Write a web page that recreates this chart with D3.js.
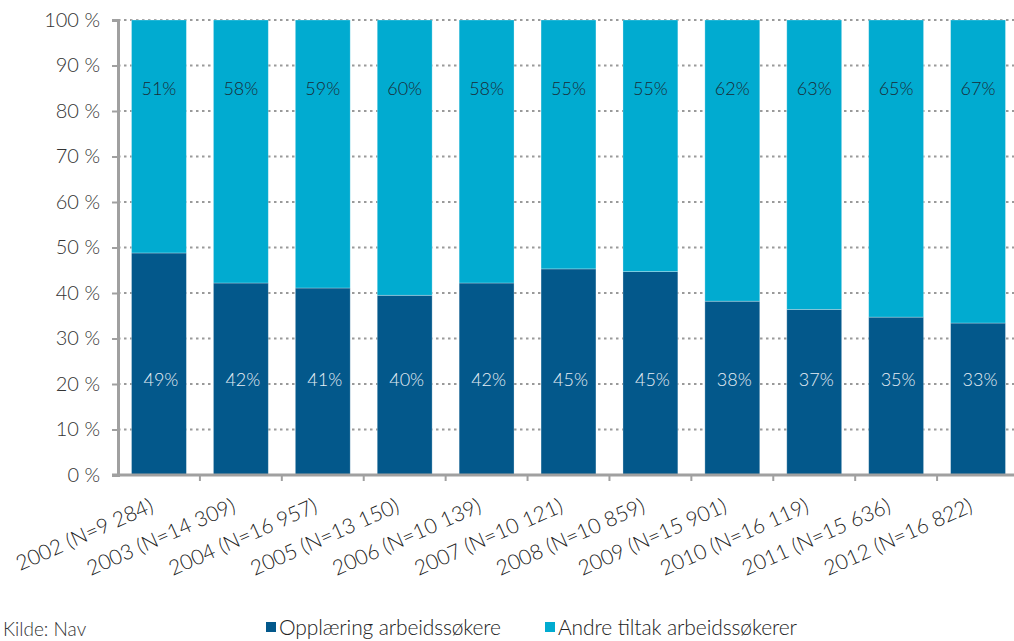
<!DOCTYPE html>
<html><head><meta charset="utf-8">
<script src="https://cdn.jsdelivr.net/npm/d3@7"></script>
<style>
body{margin:0;background:#fff;}
svg{display:block;font-family:Lato, "Open Sans", sans-serif;font-weight:300;}
</style></head>
<body><svg id="c" width="1014" height="641"></svg>
<script>
const categories = ["2002 (N=9 284)","2003 (N=14 309)","2004 (N=16 957)","2005 (N=13 150)","2006 (N=10 139)","2007 (N=10 121)","2008 (N=10 859)","2009 (N=15 901)","2010 (N=16 119)","2011 (N=15 636)","2012 (N=16 822)"];
const opplaering = [48.8, 42.2, 41.1, 39.5, 42.2, 45.3, 44.7, 38.2, 36.4, 34.7, 33.4];
const andre = opplaering.map(v => 100 - v);
const opplaeringLabels = ["49%","42%","41%","40%","42%","45%","45%","38%","37%","35%","33%"];
const andreLabels = ["51%","58%","59%","60%","58%","55%","55%","62%","63%","65%","67%"];
const yTicks = [0,10,20,30,40,50,60,70,80,90,100];
const seriesNames = ["Opplæring arbeidssøkere","Andre tiltak arbeidssøkerer"];
const colors = ["#03588b","#01abd0"];

const svg = d3.select("#c");
const mLeft = 118, mRight = 1019, mTop = 20, mBottom = 475;
const x = d3.scaleBand().domain(categories).range([mLeft, mRight]).paddingInner(0.33).paddingOuter(0.165);
const y = d3.scaleLinear().domain([0,100]).range([mBottom, mTop]);

// grid
svg.append("g").selectAll("line").data(yTicks.filter(d=>d>0)).join("line")
  .attr("x1", mLeft).attr("x2", 1014).attr("y1", d=>y(d)).attr("y2", d=>y(d))
  .attr("stroke", "#9a9a9a").attr("stroke-width", 2).attr("stroke-dasharray", "2.5,3.5");

// bars
const g = svg.append("g");
categories.forEach((c,i)=>{
  g.append("rect").attr("x", x(c)).attr("width", x.bandwidth())
    .attr("y", y(opplaering[i])).attr("height", y(0)-y(opplaering[i]))
    .attr("fill", colors[0]).attr("stroke","#ffffff").attr("stroke-opacity",0.35).attr("stroke-width",0.8);
  g.append("rect").attr("x", x(c)).attr("width", x.bandwidth())
    .attr("y", y(100)).attr("height", y(opplaering[i])-y(100))
    .attr("fill", colors[1]).attr("stroke","#ffffff").attr("stroke-opacity",0.35).attr("stroke-width",0.8);
  g.append("text").attr("x", x(c)+x.bandwidth()/2).attr("y", y(85)+7)
    .attr("text-anchor","middle").attr("font-size",18).attr("fill","#1b2a35").text(andreLabels[i]);
  g.append("text").attr("x", x(c)+x.bandwidth()/2+2).attr("y", y(21)+7)
    .attr("text-anchor","middle").attr("font-size",18).attr("fill","#e6eef5").text(opplaeringLabels[i]);
});

// y axis
const ya = svg.append("g").attr("transform", `translate(${mLeft},0)`)
  .call(d3.axisLeft(y).tickValues(yTicks).tickSize(6).tickPadding(12).tickFormat(d=>d+" %"));
ya.select(".domain").attr("stroke","#a0a0a0").attr("stroke-width",3);
ya.selectAll(".tick line").attr("stroke","#a0a0a0").attr("stroke-width",2);
ya.selectAll("text").attr("font-size",20).attr("fill","#333").attr("font-family","Lato, sans-serif").attr("font-weight",300);

// x axis
svg.append("line").attr("x1", mLeft-6).attr("x2", 1014).attr("y1", mBottom).attr("y2", mBottom)
  .attr("stroke","#a0a0a0").attr("stroke-width",3);
const step = x.step();
svg.append("g").selectAll("line").data(categories.slice(1)).join("line")
  .attr("x1", d=>x(d)-(step-x.bandwidth())/2).attr("x2", d=>x(d)-(step-x.bandwidth())/2)
  .attr("y1", mBottom).attr("y2", mBottom+6).attr("stroke","#a0a0a0").attr("stroke-width",2);
svg.append("g").selectAll("text").data(categories).join("text")
  .attr("transform", d=>`translate(${x(d)+x.bandwidth()/2-4},${mBottom+36}) rotate(-24)`)
  .attr("text-anchor","end").attr("font-size",21).attr("fill","#222").text(d=>d);

// legend
svg.append("text").attr("x",3).attr("y",636).attr("font-size",19).attr("fill","#333").text("Kilde: Nav");
const lx = [266, 545];
const lw = [222, 239];
seriesNames.forEach((n,i)=>{
  svg.append("rect").attr("x",lx[i]).attr("y",622).attr("width",10).attr("height",10).attr("fill",colors[i]);
  svg.append("text").attr("x",lx[i]+13).attr("y",635).attr("font-size",21).attr("fill","#222")
    .attr("textLength", lw[i]).attr("lengthAdjust","spacing").text(n);
});
</script></body></html>
